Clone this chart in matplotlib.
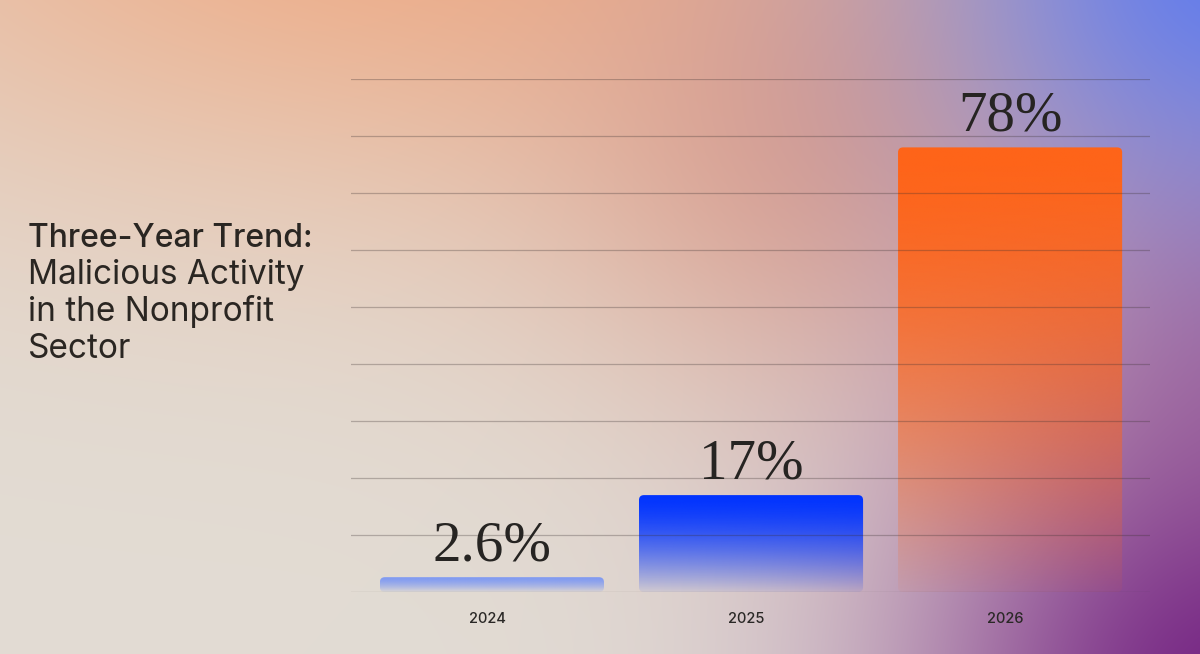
import numpy as np
import matplotlib.pyplot as plt
import matplotlib.transforms as mtransforms
from matplotlib.patches import FancyBboxPatch

# data
years = ['2024', '2025', '2026']
values = [2.6, 17, 78]
value_labels = ['2.6%', '17%', '78%']
title_lines = ['Three-Year Trend:', 'Malicious Activity', 'in the Nonprofit', 'Sector']

bar_colors = ['#6f8ff8', '#0033ff', '#ff6418']
bar_top_alpha = [0.85, 1.0, 1.0]

W, H = 1200, 654
fig = plt.figure(figsize=(12, 6.54), dpi=100)

# background: soft colour blobs over beige
yy, xx = np.mgrid[0:H, 0:W].astype(float)
bg = np.ones((H, W, 3)) * np.array([226, 220, 212]) / 255


def blob(img, cx, cy, rx, ry, color, a=1.0):
    w = a * np.exp(-(((xx - cx) / rx) ** 2 + ((yy - cy) / ry) ** 2))
    c = np.array(color) / 255
    return img * (1 - w[..., None]) + c * w[..., None]


bg = blob(bg, 450, -120, 700, 330, (238, 172, 135))
bg = blob(bg, 820, 130, 270, 260, (218, 154, 136), 0.8)
bg = blob(bg, 1260, 330, 260, 300, (165, 110, 160), 0.8)
bg = blob(bg, 1250, -40, 320, 260, (100, 125, 235))
bg = blob(bg, 1250, 700, 340, 300, (118, 38, 132))

bgax = fig.add_axes([0, 0, 1, 1], zorder=-10)
bgax.imshow(np.clip(bg, 0, 1), aspect='auto', interpolation='bilinear')
bgax.axis('off')

# chart
ax = fig.add_axes([351 / W, 1 - 592 / H, 799 / W, 513 / H])
ax.patch.set_alpha(0)
x = np.arange(len(years))
ax.set_xlim(-0.544, 2.54)
ax.set_ylim(0, 90)
bar_w = 0.865

px_x = 799 / (ax.get_xlim()[1] - ax.get_xlim()[0])
px_y = 513 / 90

for i, v in enumerate(values):
    t = np.linspace(0, 1, 200)
    alpha = bar_top_alpha[i] * (0.06 + 0.94 * (1 - (1 - t) ** 1.5))
    rgba = np.zeros((200, 1, 4))
    rgba[..., :3] = np.array(plt.matplotlib.colors.to_rgb(bar_colors[i]))
    rgba[:, 0, 3] = alpha
    x0 = x[i] - bar_w / 2
    im = ax.imshow(rgba, extent=[x0, x0 + bar_w, 0, v], origin='lower',
                   aspect='auto', interpolation='bilinear', zorder=1)
    clip = FancyBboxPatch((x0, 0), bar_w, v,
                          boxstyle='round,pad=0,rounding_size=%f' % (5 / px_x),
                          mutation_aspect=px_x / px_y,
                          transform=ax.transData, facecolor='none', edgecolor='none')
    ax.add_patch(clip)
    im.set_clip_path(clip)
    ax.annotate(value_labels[i], (x[i], v), xytext=(0, 12), textcoords='offset points',
                ha='center', va='baseline', fontsize=41, family='Liberation Serif',
                color='#262422', zorder=4)

# year labels under the bars (slightly left of centre, like the original)
shift = mtransforms.ScaledTranslation(-0.05, -0.27, fig.dpi_scale_trans)
for i, yr in enumerate(years):
    ax.text(x[i], 0, yr, transform=ax.get_xaxis_transform() + shift,
            ha='center', va='center', family='Inter', fontsize=10.5,
            fontweight='medium', color='#2a2826')

ax.set_xticks([])
ax.set_yticks(np.arange(0, 91, 10))
ax.tick_params(axis='y', length=0, labelleft=False)
ax.grid(axis='y', color='#3a3030', alpha=0.3, linewidth=0.9)
ax.set_axisbelow(False)
for s in ax.spines.values():
    s.set_visible(False)

# title
baselines = [247, 284, 321, 358]
for i, line in enumerate(title_lines):
    fig.text(28 / W, 1 - baselines[i] / H, line, family='Inter',
             fontsize=23 if i == 0 else 24,
             fontweight='medium' if i == 0 else 'normal', color='#2a2622',
             va='baseline', ha='left')

plt.savefig('out.png', dpi=100)
